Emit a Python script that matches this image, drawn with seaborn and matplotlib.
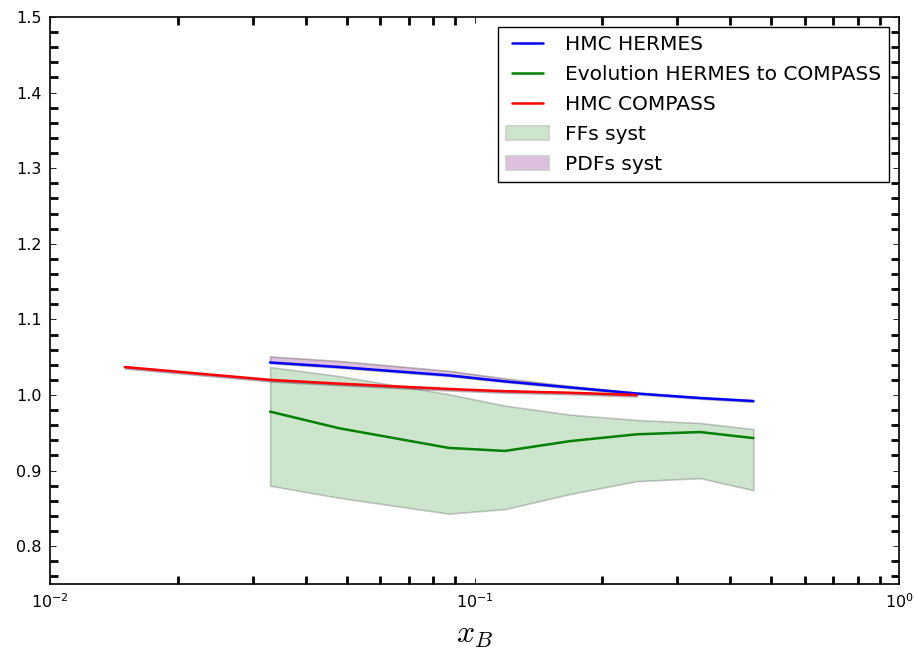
import matplotlib
matplotlib.use("Agg")
import matplotlib.pyplot as plt
import matplotlib.ticker as mticker
from matplotlib.lines import Line2D
from matplotlib.patches import Patch
import seaborn as sns

# HERMES kinematic bins in x_B and the ratios evaluated there
x_hermes = [0.033, 0.048, 0.087, 0.118, 0.168, 0.241, 0.340, 0.454]
hmc_hermes = [1.043, 1.037, 1.026, 1.018, 1.010, 1.002, 0.996, 0.992]
evolution = [0.978, 0.956, 0.930, 0.926, 0.939, 0.948, 0.951, 0.943]
ffs_low = [0.880, 0.864, 0.843, 0.849, 0.869, 0.886, 0.890, 0.874]
ffs_high = [1.037, 1.025, 1.001, 0.986, 0.974, 0.967, 0.963, 0.955]
pdfs_low = [1.042, 1.036, 1.025, 1.017, 1.009, 1.001, 0.995, 0.991]
pdfs_high = [1.051, 1.045, 1.032, 1.022, 1.012, 1.003, 0.997, 0.993]

# COMPASS kinematic bins
x_compass = [0.015, 0.033, 0.048, 0.087, 0.118, 0.168, 0.241]
hmc_compass = [1.037, 1.020, 1.015, 1.008, 1.005, 1.003, 1.000]
pdfs_compass_low = [1.035, 1.018, 1.013, 1.006, 1.003, 1.001, 0.998]
pdfs_compass_high = [1.037, 1.020, 1.015, 1.008, 1.005, 1.003, 1.000]

legend_labels = ["HMC HERMES", "Evolution HERMES to COMPASS", "HMC COMPASS",
                 "FFs syst", "PDFs syst"]

sns.set_style("white")
plt.rcParams["font.family"] = ["DejaVu Sans"]
plt.rcParams["mathtext.fontset"] = "cm"
plt.rcParams["text.color"] = "k"
plt.rcParams["axes.labelcolor"] = "k"

fig, ax = plt.subplots(figsize=(9.14, 6.5), dpi=100)
fig.subplots_adjust(left=50 / 914, right=899 / 914, top=1 - 17 / 650, bottom=1 - 584 / 650)

ax.fill_between(x_hermes, ffs_low, ffs_high, facecolor="g", zorder=1,
                alpha=0.2, edgecolor="k", linewidth=1.2)
ax.fill_between(x_hermes, pdfs_low, pdfs_high, facecolor="purple", zorder=1,
                alpha=0.25, edgecolor="k", linewidth=1.2)
ax.fill_between(x_compass, pdfs_compass_low, pdfs_compass_high, facecolor="purple",
                zorder=1, alpha=0.25, edgecolor="k", linewidth=1.2)

lw = 1.8
sns.lineplot(x=x_hermes, y=hmc_hermes, color="b", lw=lw, sort=False,
             estimator=None, ax=ax, zorder=3)
sns.lineplot(x=x_hermes, y=evolution, color="g", lw=lw, sort=False,
             estimator=None, ax=ax, zorder=3)
sns.lineplot(x=x_compass, y=hmc_compass, color="r", lw=lw, sort=False,
             estimator=None, ax=ax, zorder=3)

ax.set_xscale("log")
ax.set_xlim(1e-2, 1)
ax.set_ylim(0.75, 1.5)
ax.yaxis.set_major_locator(mticker.MultipleLocator(0.1))
ax.yaxis.set_minor_locator(mticker.MultipleLocator(0.02))
ax.yaxis.set_major_formatter(mticker.FormatStrFormatter("%.1f"))
ax.xaxis.set_minor_locator(mticker.LogLocator(base=10, subs=range(2, 10)))
ax.xaxis.set_minor_formatter(mticker.NullFormatter())

ax.tick_params(which="both", direction="in", top=True, right=True,
               bottom=True, left=True, labelsize=11.5, pad=6, colors="k")
ax.tick_params(which="major", length=4.5, width=0.6)
ax.tick_params(which="minor", length=6, width=2)
for s in ax.spines.values():
    s.set_visible(True)
    s.set_color("k")
    s.set_linewidth(1.2)

ax.set_xlabel(r"$x_B$", fontsize=23, labelpad=6)
ax.set_ylabel("")

handles = [
    Line2D([], [], color="b", lw=lw),
    Line2D([], [], color="g", lw=lw),
    Line2D([], [], color="r", lw=lw),
    Patch(facecolor=(0.8, 0.9, 0.8), edgecolor=(0.8, 0.8, 0.8), linewidth=1.2),
    Patch(facecolor=(0.875, 0.75, 0.875), edgecolor=(0.8, 0.8, 0.8), linewidth=1.2),
]
leg = ax.legend(handles, legend_labels, loc="upper right", bbox_to_anchor=(1, 1),
                borderaxespad=0.5, fontsize=14.5, numpoints=2, handlelength=2.1,
                handletextpad=0.8, labelspacing=0.55, borderpad=0.4,
                fancybox=False, framealpha=1, edgecolor="k")
leg.get_frame().set_linewidth(1.0)

fig.savefig("out.png", dpi=100)
